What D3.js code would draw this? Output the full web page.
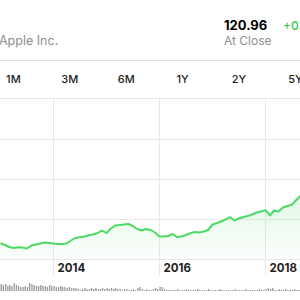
<!DOCTYPE html>
<html>
<head>
<meta charset="utf-8">
<script src="https://cdn.jsdelivr.net/npm/d3@7"></script>
<style>
  body { margin: 0; background: #fff; }
  svg { display: block; font-family: Inter, "Noto Sans", sans-serif; }
</style>
</head>
<body>
<script>
// header text
let company = 'Apple Inc.'
let lastPrice = '120.96'
let change = '+0.36 (0.30%)'
let closeLabel = 'At Close'
let ranges = ['1M', '3M', '6M', '1Y', '2Y', '5Y']
let yearTicks = [2014, 2016, 2018]

// monthly closes, Jan 2013 .. Sep 2018 (chart units)
let prices = [
  16.3, 14.5, 12.5, 11.5, 12.2, 12, 11, 14, 15, 16, 17, 16.5,
  16, 15.5, 15.5, 16, 19, 21.5, 22.3, 23, 24.2, 25, 26.5, 29,
  26.5, 31, 34, 34.5, 35, 35.5, 33.5, 30.5, 29, 30.5, 29.5, 27,
  23, 23, 23.5, 25.5, 22.5, 23, 24.5, 26.3, 27.5, 27, 28, 29.5,
  35, 36.5, 38, 40, 42.5, 39, 41, 42.5, 43.5, 45, 47, 48,
  49.3, 44, 49, 48, 52, 53.5, 54.7, 59.5, 64
]

// semi-monthly volume, same period
let volumes = [
  7, 6, 7, 5, 6, 5, 8, 6, 5, 4, 4, 5, 4, 8, 7, 6, 5, 5, 6, 5,
  5, 4, 6, 5, 5, 4, 4, 5, 4, 4, 3, 4, 3, 3, 3, 2, 1, 2, 3, 2,
  2, 3, 2, 3, 2, 2, 3, 2, 3, 2, 3, 2, 3, 2, 2, 1, 2, 2, 1, 1,
  2, 1, 3, 4, 2, 1, 2, 1, 1, 2, 3, 2, 4, 4, 2, 1, 1, 1, 1, 1,
  2, 1, 1, 1, 2, 1, 1, 1, 1, 2, 1, 1, 1, 1, 2, 1, 1, 1, 1, 2,
  1, 1, 1, 1, 1, 1, 2, 1, 1, 1, 1, 2, 1, 1, 1, 1, 1, 2, 1, 1,
  2, 3, 2, 3, 1, 1, 2, 1, 1, 2, 1, 1, 1, 2, 1, 1, 1
]

let months = d3.timeMonth.range(new Date(2013, 0, 1), new Date(2013, prices.length, 1))
let priceData = prices.map((v, i) => ({ date: months[i], value: v }))
let volData = volumes.map((v, i) => ({
  date: new Date(2013, Math.floor(i / 2), i % 2 ? 16 : 1),
  value: v
}))

width = 300
height = 300

let green = '#4cd964'
let grid = '#e8e8e8'

let svg = d3.select('body')
  .append('svg')
  .attr('width', width)
  .attr('height', height)

let x = d3.scaleTime()
  .domain([new Date(2014, 0, 1), new Date(2018, 0, 1)])
  .range([53.5, 265.5])

let y = d3.scaleLinear()
  .domain([0, 160])
  .range([259.5, 99.5])

let yVol = d3.scaleLinear()
  .domain([0, 8])
  .range([291, 283])

let tabX = d3.scalePoint()
  .domain(ranges)
  .range([13.4, 295.4])

// header
svg.append('text')
  .attr('x', -1).attr('y', 45)
  .attr('font-size', 12.5)
  .attr('fill', '#8e8e93')
  .text(company)

svg.append('text')
  .attr('x', 224).attr('y', 30)
  .attr('font-size', 13)
  .attr('font-weight', 700)
  .attr('fill', '#000')
  .text(lastPrice)

svg.append('text')
  .attr('x', 283).attr('y', 30)
  .attr('font-size', 12)
  .attr('font-weight', 500)
  .attr('fill', '#34c759')
  .text(change)

svg.append('text')
  .attr('x', 224).attr('y', 44.5)
  .attr('font-size', 12)
  .attr('fill', '#8e8e93')
  .text(closeLabel)

svg.append('line')
  .attr('x1', 0).attr('x2', width)
  .attr('y1', 60.5).attr('y2', 60.5)
  .attr('stroke', '#e0e0e0')

svg.selectAll('.tab')
  .data(ranges)
  .join('text')
    .attr('class', 'tab')
    .attr('x', d => tabX(d))
    .attr('y', 83)
    .attr('text-anchor', 'middle')
    .attr('font-size', 11)
    .attr('font-weight', 500)
    .attr('fill', '#1c1c1e')
    .text(d => d)

svg.append('line')
  .attr('x1', 0).attr('x2', width)
  .attr('y1', 98.5).attr('y2', 98.5)
  .attr('stroke', grid)

// grid
svg.append('g')
  .selectAll('line')
  .data([0, 40, 80, 120])
  .join('line')
    .attr('x1', 0).attr('x2', width)
    .attr('y1', d => y(d)).attr('y2', d => y(d))
    .attr('stroke', grid)

let yearDates = yearTicks.map(d => new Date(d, 0, 1))

svg.append('g')
  .selectAll('line')
  .data(yearDates)
  .join('line')
    .attr('x1', d => x(d)).attr('x2', d => x(d))
    .attr('y1', 98.5).attr('y2', 275)
    .attr('stroke', grid)

// area + line
let defs = svg.append('defs')
let grad = defs.append('linearGradient')
  .attr('id', 'fade')
  .attr('x1', 0).attr('x2', 0).attr('y1', 0).attr('y2', 1)
grad.append('stop').attr('offset', '0%').attr('stop-color', green).attr('stop-opacity', 0.16)
grad.append('stop').attr('offset', '100%').attr('stop-color', green).attr('stop-opacity', 0.02)

svg.append('path')
  .datum(priceData)
  .attr('fill', 'url(#fade)')
  .attr('d', d3.area()
    .x(d => x(d.date))
    .y0(y(0))
    .y1(d => y(d.value)))

svg.append('path')
  .datum(priceData)
  .attr('fill', 'none')
  .attr('stroke', green)
  .attr('stroke-width', 2)
  .attr('stroke-linejoin', 'round')
  .attr('d', d3.line()
    .x(d => x(d.date))
    .y(d => y(d.value)))

// year labels
svg.selectAll('.year')
  .data(yearDates)
  .join('text')
    .attr('class', 'year')
    .attr('x', d => x(d) + 4)
    .attr('y', 272)
    .attr('font-size', 11.5)
    .attr('font-weight', 700)
    .attr('fill', '#222')
    .text(d => d.getFullYear())

// volume
svg.append('g')
  .selectAll('rect')
  .data(volData)
  .join('rect')
    .attr('x', d => x(d.date))
    .attr('y', d => yVol(d.value))
    .attr('width', 1.3)
    .attr('height', d => yVol(0) - yVol(d.value))
    .attr('fill', '#999')
</script>
</body>
</html>
